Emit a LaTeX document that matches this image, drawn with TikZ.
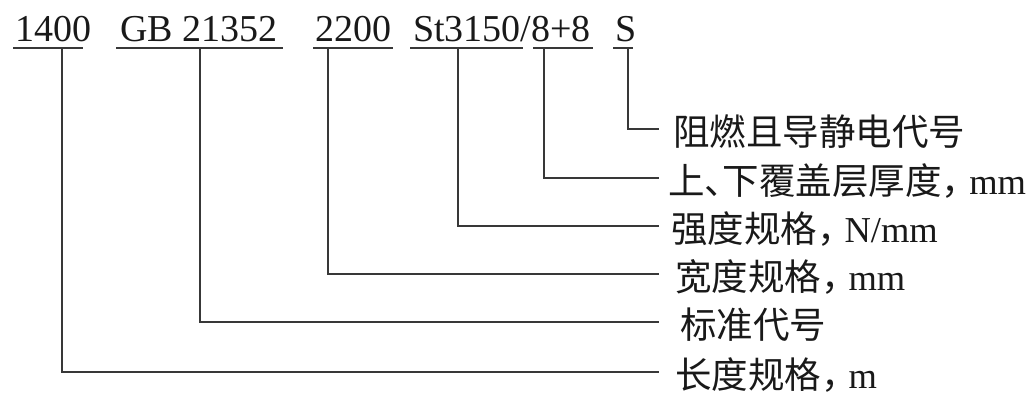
\documentclass[tikz,border=0pt]{standalone}
\usepackage{fontspec}
\setmainfont{Liberation Serif}
\newfontfamily\cjk[RawFeature=+halt]{Noto Sans CJK SC}
\newcommand{\zc}{{\cjk ，}\kern0.25em}
\begin{document}
\begin{tikzpicture}[x=1pt,y=-1pt,
  ln/.style={draw=black!78, line width=1.7pt},
  toptext/.style={anchor=base west, inner sep=0pt, text=black!90, font=\fontsize{38}{40}\selectfont},
  lab/.style={anchor=base west, inner sep=0pt, text=black!90, font=\fontsize{36.5}{40}\selectfont}]
\useasboundingbox (0,0) rectangle (1031,396);
\fill[white] (0,0) rectangle (1031,396);
% top code items
\node[toptext] (t1) at (15,42) {1400};
\node[toptext] (t2) at (120,42) {GB 21352};
\node[toptext] (t3) at (315,42) {2200};
\node[toptext] (t4) at (413,42) {St3150/8+8};
\node[toptext] (t6) at (615,42) {S};
% underline end points
\coordinate (u1a) at (13,48);  \coordinate (u1b) at (83,48);
\coordinate (u2a) at (116,48); \coordinate (u2b) at (283,48);
\coordinate (u3a) at (313,48); \coordinate (u3b) at (393,48);
\coordinate (u4a) at (410,48); \coordinate (u4b) at (523,48);
\coordinate (u5a) at (533,48); \coordinate (u5b) at (593,48);
\coordinate (u6a) at (613,48); \coordinate (u6b) at (633,48);
\foreach \i in {1,...,6} {\draw[ln] (u\i a) -- (u\i b);}
% connector start points
\coordinate (v1) at (62,48);
\coordinate (v2) at (200,48);
\coordinate (v3) at (328,48);
\coordinate (v4) at (458,48);
\coordinate (v5) at (544,48);
\coordinate (v6) at (628,48);
% connector free ends
\coordinate (e1) at (659,372);
\coordinate (e2) at (659,322);
\coordinate (e3) at (659,274);
\coordinate (e4) at (659,226);
\coordinate (e5) at (659,178);
\coordinate (e6) at (659,129);
\foreach \i in {1,...,6} {\draw[ln] (v\i) |- (e\i);}
% labels
\node[lab] (l1) at ([xshift=16pt,yshift=-16.5pt]e1) {{\cjk 长度规格}\zc m};
\node[lab] (l2) at ([xshift=21pt,yshift=-16.5pt]e2) {{\cjk 标准代号}};
\node[lab] (l3) at ([xshift=16pt,yshift=-16.5pt]e3) {{\cjk 宽度规格}\zc mm};
\node[lab] (l4) at ([xshift=12pt,yshift=-16.5pt]e4) {{\cjk 强度规格}\zc N/mm};
\node[lab] (l5) at ([xshift=9pt,yshift=-16.5pt]e5) {{\cjk 上、下覆盖层厚度}\zc mm};
\node[lab] (l6) at ([xshift=14pt,yshift=-16.5pt]e6) {{\cjk 阻燃且导静电代号}};
\end{tikzpicture}
\end{document}
